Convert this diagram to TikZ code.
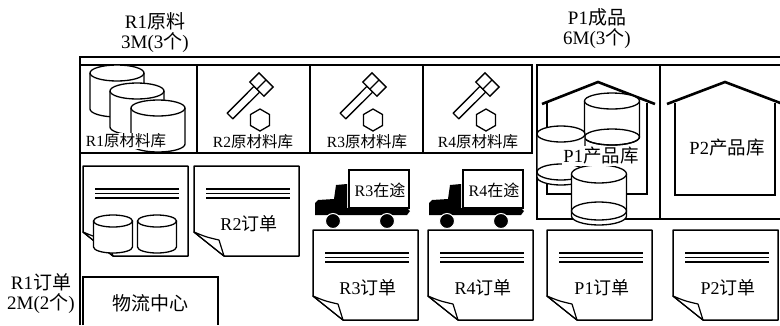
\documentclass[tikz,border=0pt]{standalone}
\usepackage{fontspec}
\setmainfont{Liberation Serif}
\newfontfamily\cjk{Noto Sans CJK SC}
\newcommand\zh[1]{{\cjk #1}}

\begin{document}
\begin{tikzpicture}[x=1pt, y=-1pt,
  frame/.style={line width=1.2pt},
  edge/.style={line width=1.3pt},
  paper/.style={line width=1.5pt, fill=white, line join=round},
  roof/.style={line width=2.6pt},
  tag/.style={inner sep=0pt, align=center, font=\fontsize{19pt}{20pt}\selectfont},
  bintext/.style={inner sep=1pt, fill=white, font=\fontsize{15.5pt}{17pt}\selectfont},
  sheettext/.style={inner sep=0pt, font=\fontsize{18pt}{20pt}\selectfont},
  trucktext/.style={inner sep=0pt, font=\fontsize{16pt}{18pt}\selectfont},
  pics/sheet/.style={code={
    \filldraw[paper] (0,0) -- (105,0) -- (105,90) -- (30,90) -- (0,66) -- cycle;
    \filldraw[paper, line width=1.2pt] (0,66) .. controls (12,71) .. (25,74) -- (30,90) -- cycle;
    \draw[line width=1.3pt] (12,23) -- (96,23) (12,27.5) -- (96,27.5) (12,32) -- (96,32);
  }},
  pics/drum/.style args={#1/#2/#3}{code={
    \filldraw[edge, fill=white] (-#1,0) -- (-#1,#3) arc[start angle=180, end angle=0, x radius=#1, y radius=#2] -- (#1,0);
    \filldraw[edge, fill=white] (0,0) ellipse[x radius=#1, y radius=#2];
  }},
  pics/can/.style args={#1/#2/#3}{code={
    \filldraw[edge, fill=white] (-#1,0) -- (-#1,#3+5) arc[start angle=180, end angle=0, x radius=#1, y radius=#2] -- (#1,0);
    \draw[edge] (0,#3) ellipse[x radius=#1, y radius=#2];
    \filldraw[edge, fill=white] (0,0) ellipse[x radius=#1, y radius=#2];
  }},
  pics/bolt/.style={code={
    % shank, head and nut
    \draw[edge, line join=round] (30.2,48.2) -- (35.8,53.8) -- (62.7,27) -- (57,21.3) -- cycle;
    \draw[edge, fill=white] (52.8,17.1) -- (66.9,31.2) -- (76.1,22) -- (62,7.9) -- cycle;
    \draw[edge] (59.9,24.1) -- (69.1,14.9);
    \draw[edge] (63,44) -- (72.5,49.5) -- (72.5,60.5) -- (63,66) -- (53.5,60.5) -- (53.5,49.5) -- cycle;
  }},
  pics/truck/.style={code={
    \draw[edge, fill=white] (0,0) rectangle (60,38);
    \fill (-34,45) -- (-34,33) -- (-31,30) -- (-15,29) -- (-13,15) -- (-2,14) -- (-2,38) -- (58,38) -- (61,41) -- (58,45) -- cycle;
    \filldraw[draw=white, line width=1pt] (-16,51) circle[radius=7.5] (38,51) circle[radius=7.5];
  }}]

\useasboundingbox (0,0) rectangle (780,325);

% Define the corners of the bins, sheets and trucks
\coordinate (r2bin) at (197,65);
\coordinate (r3bin) at (310,65);
\coordinate (r4bin) at (423,65);
\coordinate (r1sheet) at (83,166);
\coordinate (r2sheet) at (194,166);
\coordinate (r3sheet) at (313,230);
\coordinate (r4sheet) at (428,230);
\coordinate (p1sheet) at (547,230);
\coordinate (p2sheet) at (673,230);
\coordinate (r3truck) at (349,170);
\coordinate (r4truck) at (463,170);

% Outer frame
\draw[frame] (80,325) -- (80,57) -- (780,57);

% Raw material bins
\draw[frame] (80,65) -- (532,65) -- (532,153) -- (80,153);
\draw[frame] (197,65) -- (197,153);
\draw[frame] (310,65) -- (310,153);
\draw[frame] (423,65) -- (423,153);

% Product stores
\draw[frame] (780,65) -- (537,65) -- (537,219) -- (780,219);
\draw[frame] (660,65) -- (660,219);

% Logistics centre
\draw[frame] (83,325) -- (83,277) -- (218,277) -- (218,325);

% R1 bin with three drums
\pic at (117,73) {drum=27/8/36};
\pic at (137,91) {drum=27/8/36};
\pic at (158,108) {drum=27/8/36};

% Bolt and nut bins
\pic at (r2bin) {bolt};
\pic at (r3bin) {bolt};
\pic at (r4bin) {bolt};

% Order sheets
\pic at (r1sheet) {sheet};
\pic at (r2sheet) {sheet};
\pic at (r3sheet) {sheet};
\pic at (r4sheet) {sheet};
\pic at (p1sheet) {sheet};
\pic at (p2sheet) {sheet};
\pic at (113,221) {drum=19.5/6/26};
\pic at (157,221) {drum=19.5/6/26};

% Trucks on the way
\pic at (r3truck) {truck};
\pic at (r4truck) {truck};

% P1 store: house with drums
\draw[frame] (547,103) -- (547,194) -- (647,194) -- (647,103);
\draw[roof] (542,104) -- (598,82) -- (655,104);
\pic at (612,101) {drum=27.5/8/36};
\draw[edge] (612,137) ellipse[x radius=27.5, y radius=8];
\pic at (561,134) {can=24/8/38};
\pic at (599,174) {can=27.5/9/37};

% P2 store: empty house
\draw[frame] (675,103) -- (675,195) -- (775,195) -- (775,103);
\draw[roof] (667,104) -- (725,82) -- (783,104);

% Labels
\node[tag] (r1raw) at (155,33) {R1\zh{原料}\\3M(3\zh{个})};
\node[tag] (p1goods) at (597,29) {P1\zh{成品}\\6M(3\zh{个})};
\node[tag] (r1order) at (41,294) {R1\zh{订单}\\2M(2\zh{个})};

\node[bintext] (r1store) at (126,141) {R1\zh{原材料库}};
\node[bintext] (r2store) at (253,142) {R2\zh{原材料库}};
\node[bintext] (r3store) at (367,142) {R3\zh{原材料库}};
\node[bintext] (r4store) at (478,142) {R4\zh{原材料库}};

\node[bintext, font=\fontsize{18.5pt}{20pt}\selectfont] (p1store) at (601,156) {P1\zh{产品库}};
\node[sheettext, font=\fontsize{18.5pt}{20pt}\selectfont] (p2store) at (727,148) {P2\zh{产品库}};

\node[trucktext] (r3way) at (380,190) {R3\zh{在途}};
\node[trucktext] (r4way) at (494,190) {R4\zh{在途}};

\node[sheettext] (r2list) at (249,224) {R2\zh{订单}};
\node[sheettext] (r3list) at (368,288) {R3\zh{订单}};
\node[sheettext] (r4list) at (483,288) {R4\zh{订单}};
\node[sheettext] (p1list) at (602,288) {P1\zh{订单}};
\node[sheettext] (p2list) at (728,288) {P2\zh{订单}};

\node[tag] (depot) at (150,303) {\zh{物流中心}};

\end{tikzpicture}
\end{document}
